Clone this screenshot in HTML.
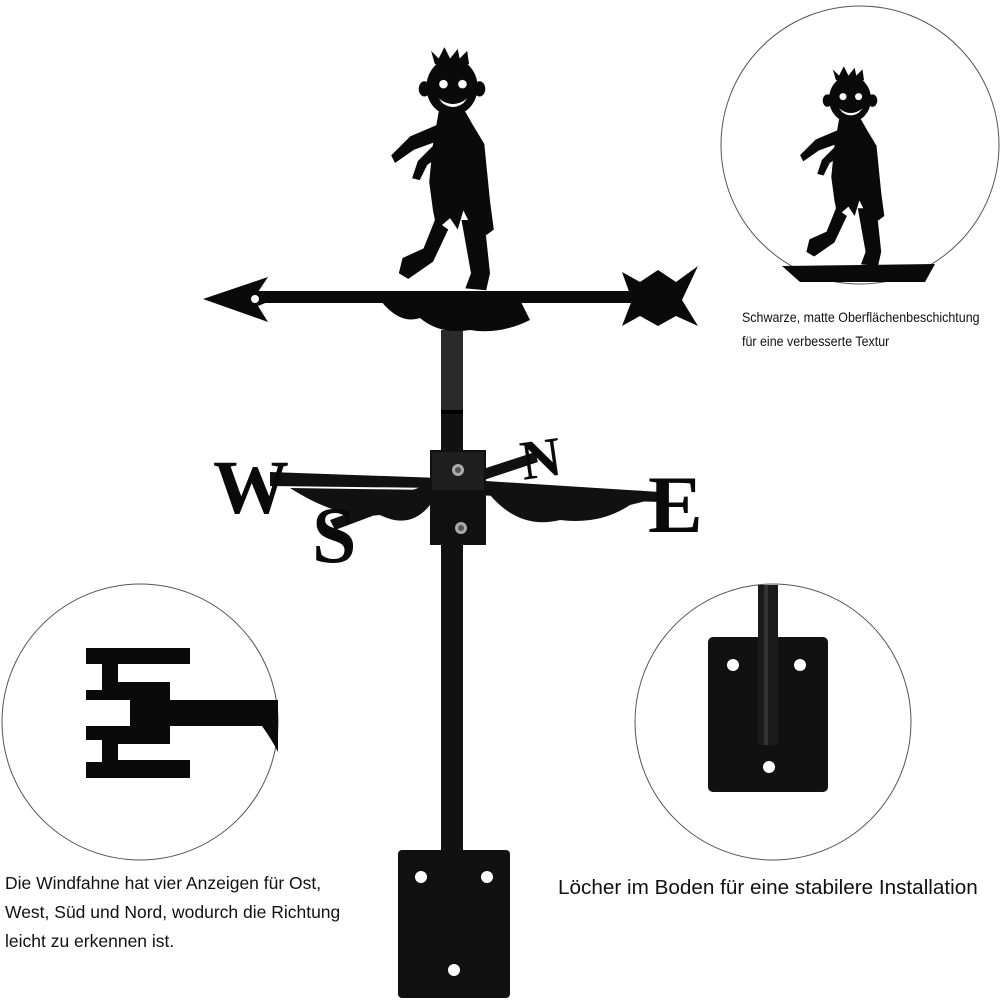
<!DOCTYPE html>
<html><head><meta charset="utf-8"><style>
html,body{margin:0;padding:0;background:#fff;}
body{width:1000px;height:1000px;position:relative;overflow:hidden;font-family:"Liberation Sans",sans-serif;color:#111;}
.t{position:absolute;white-space:nowrap;}
.c{transform:scaleX(0.89);transform-origin:0 0;}
</style></head><body>
<svg width="1000" height="1000" viewBox="0 0 1000 1000" style="position:absolute;left:0;top:0">
<defs>
<g id="zombie">
  <ellipse cx="0" cy="0" rx="27" ry="30"/>
  <ellipse cx="-29" cy="2" rx="6" ry="8"/>
  <ellipse cx="29" cy="2" rx="6" ry="8"/>
  <path d="M-18,-24 L-22,-38 L-14,-30 L-8,-42 L-2,-30 L6,-40 L8,-30 L16,-38 L18,-24 Z"/>
  <path d="M-14,26 L14,26 L22,40 L34,60 L40,120 L44,150 L36,156 L30,140 L22,150 L12,130 L6,150 L-2,138 L-16,150 L-20,130 L-24,100 L-20,60 Z"/>
  <path d="M-16,40 L-44,52 L-64,72 L-60,80 L-40,66 L-18,58 Z"/>
  <path d="M-20,62 L-36,78 L-42,96 L-34,98 L-26,82 L-14,74 Z"/>
  <path d="M-18,140 L-30,170 L-52,180 L-56,196 L-46,202 L-20,184 L-4,150 Z"/>
  <path d="M10,140 L20,196 L14,212 L36,214 L40,196 L34,140 Z"/>
  <circle cx="-9" cy="-3" r="4.5" fill="#fff"/><circle cx="11" cy="-3" r="4.5" fill="#fff"/>
  <path d="M-14,12 Q1,24 16,12 L12,17 Q1,25 -10,17 Z" fill="#fff"/>
</g>
</defs>

<rect x="441" y="330" width="22" height="525" fill="#111"/>
<rect x="441" y="330" width="22" height="82" fill="#2a2a2a"/>
<rect x="441" y="410" width="22" height="4" fill="#000"/>
<g transform="translate(452,87) scale(0.95)" fill="#0a0a0a"><use href="#zombie"/></g>
<rect x="240" y="291" width="400" height="12" fill="#0a0a0a"/>
<path d="M380,300 Q400,325 420,318 Q440,335 470,330 Q500,335 530,320 L520,300 Z" fill="#0a0a0a"/>
<path d="M203,299 L268,277 L258,292 L275,299 L258,306 L268,322 Z" fill="#0a0a0a"/>
<circle cx="255" cy="299" r="4" fill="#fff"/>
<path d="M622,272 L640,282 L658,270 L676,282 L698,266 L682,300 L698,326 L676,316 L658,326 L640,316 L622,326 L632,300 Z" fill="#0a0a0a"/>
<path d="M270,472 L440,478 L440,488 L270,486 Z" fill="#111"/>
<path d="M470,480 L660,492 L660,502 L470,495 Z" fill="#111"/>
<path d="M330,520 L440,480 L442,490 L335,530 Z" fill="#111"/>
<path d="M480,470 L535,452 L538,462 L484,480 Z" fill="#111"/>
<path d="M290,488 Q340,520 380,515 Q410,530 430,505 L430,490 Z" fill="#111"/>
<path d="M490,495 Q520,530 560,520 Q600,525 630,505 L650,500 L490,492 Z" fill="#111"/>
<text x="213" y="513" font-family="Liberation Serif,serif" font-weight="bold" font-size="76" fill="#0a0a0a">W</text>
<text x="648" y="532" font-family="Liberation Serif,serif" font-weight="bold" font-size="82" fill="#0a0a0a">E</text>
<text x="520" y="478" font-family="Liberation Serif,serif" font-weight="bold" font-size="56" fill="#0a0a0a" transform="rotate(-8 535 455)">N</text>
<text x="312" y="562" font-family="Liberation Serif,serif" font-weight="bold" font-size="80" fill="#0a0a0a">S</text>
<rect x="430" y="450" width="56" height="95" fill="#111"/>
<rect x="432" y="452" width="52" height="38" fill="#1e1e1e"/>
<circle cx="458" cy="470" r="6" fill="#aaa"/><circle cx="458" cy="470" r="3" fill="#555"/>
<circle cx="461" cy="528" r="6" fill="#aaa"/><circle cx="461" cy="528" r="3" fill="#555"/>
<rect x="398" y="850" width="112" height="148" rx="4" fill="#111"/>
<circle cx="421" cy="877" r="6" fill="#fff"/><circle cx="487" cy="877" r="6" fill="#fff"/><circle cx="454" cy="970" r="6" fill="#fff"/>

<circle cx="860" cy="145" r="139" fill="#fff" stroke="#555" stroke-width="1"/>
<g transform="translate(850,99) scale(0.78)" fill="#0a0a0a"><use href="#zombie"/></g>
<path d="M782,266 L935,264 L925,282 L800,282 Z" fill="#0a0a0a"/>

<circle cx="140" cy="722" r="138" fill="#fff" stroke="#555" stroke-width="1"/>
<path d="M86,648 L190,648 L190,664 L170,664 L170,700 L278,700 L278,726 L170,726 L170,760 L190,760 L190,778 L86,778 L86,762 L102,762 L102,740 L86,740 L86,726 L130,726 L130,700 L86,700 L86,690 L102,690 L102,664 L86,664 Z" fill="#0a0a0a"/>
<rect x="118" y="664" width="52" height="18" fill="#fff"/>
<rect x="118" y="744" width="52" height="16" fill="#fff"/>
<path d="M262,726 Q272,740 278,752 L278,726 Z" fill="#0a0a0a"/>

<circle cx="773" cy="722" r="138" fill="#fff" stroke="#555" stroke-width="1"/>
<rect x="708" y="637" width="120" height="155" rx="5" fill="#111"/>
<rect x="758" y="585" width="20" height="160" fill="#1a1a1a"/>
<rect x="764" y="585" width="4" height="160" fill="#333"/>
<circle cx="733" cy="665" r="6" fill="#fff"/><circle cx="800" cy="665" r="6" fill="#fff"/><circle cx="769" cy="767" r="6" fill="#fff"/>
</svg>

<div class="t c" style="left:742px;top:309px;font-size:14px;">Schwarze, matte Oberflächenbeschichtung</div>
<div class="t c" style="left:742px;top:333px;font-size:14px;">für eine verbesserte Textur</div>
<div class="t" style="left:5px;top:873px;font-size:17.5px;">Die Windfahne hat vier Anzeigen für Ost,</div>
<div class="t" style="left:5px;top:902px;font-size:17.5px;">West, Süd und Nord, wodurch die Richtung</div>
<div class="t" style="left:5px;top:931px;font-size:17.5px;">leicht zu erkennen ist.</div>
<div class="t" style="left:558px;top:876px;font-size:20.7px;">Löcher im Boden für eine stabilere Installation</div>
</body></html>
